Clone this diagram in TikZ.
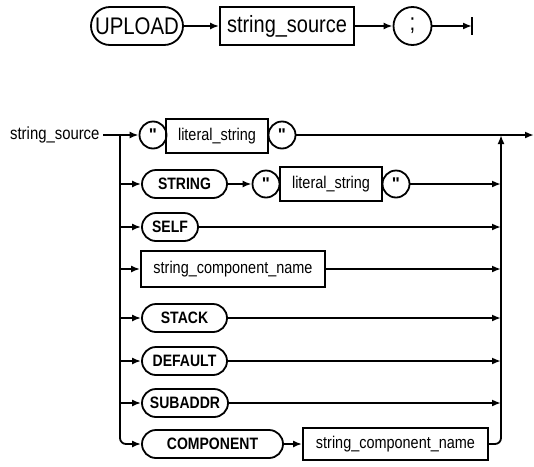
\documentclass[tikz,border=0pt]{standalone}
\usepackage{fontspec}
\setmainfont[FakeStretch=0.85]{Liberation Sans}
\newfontfamily\quotefont[Ligatures=TeXOff]{Liberation Sans}
\usetikzlibrary{arrows.meta}
\tikzset{
  kw/.style={draw,line width=1.8pt,rounded corners=14pt,minimum height=28pt,inner sep=0pt,font=\fontsize{16.5}{16.5}\selectfont\bfseries},
  refbox/.style={draw,line width=1.8pt,minimum height=34pt,inner sep=0pt,font=\fontsize{17}{17}\selectfont},
  quo/.style={draw,circle,line width=1.8pt,minimum size=27pt,inner sep=0pt,font=\fontsize{17}{17}\quotefont\bfseries},
  flow/.style={line width=1.8pt,-{Latex[length=9pt,width=7pt]}},
  wire/.style={line width=1.8pt}
}
\newcommand{\qmark}{\symbol{34}}
\begin{document}
\begin{tikzpicture}[x=1pt,y=-1pt]
\path[use as bounding box] (0,0) rectangle (534,466);
% upload statement
\node[kw,minimum width=92pt,minimum height=38pt,rounded corners=19pt,font=\fontsize{24}{24}\selectfont] (upload) at (137,26) {UPLOAD};
\node[refbox,minimum width=134pt,minimum height=38pt,font=\fontsize{23.5}{23.5}\selectfont] (ssrc) at (287,26) {string\_source};
\node[quo,minimum size=38pt,font=\fontsize{24}{24}\selectfont] (semi) at (412.5,26) {;};
\coordinate (stop) at (472,26);
\draw[flow] (upload) -- (ssrc);
\draw[flow] (ssrc) -- (semi);
\draw[flow] (semi) -- (stop);
\draw[wire] ([yshift=9pt]stop) -- ([yshift=-9pt]stop);
% string_source
\node[anchor=east,font=\fontsize{17.5}{17.5}\selectfont] (lbl) at (103,135) {string\_source};
\coordinate (split) at (120,135);
\coordinate (join) at (501,135);
\coordinate (out) at (534,135);
\node[quo] (q1) at (153,135) {\qmark};
\node[refbox,minimum width=102pt] (lit1) at (217,136) {literal\_string};
\node[quo] (q2) at (282,135) {\qmark};
\node[kw,minimum width=85pt] (string) at (184.5,184) {STRING};
\node[quo] (q3) at (266,184) {\qmark};
\node[refbox,minimum width=102pt] (lit2) at (331,184) {literal\_string};
\node[quo] (q4) at (396,184) {\qmark};
\node[kw,minimum width=56pt] (self) at (170,227) {SELF};
\node[refbox,minimum width=184pt,minimum height=36pt] (scn1) at (233,269) {string\_component\_name};
\node[kw,minimum width=85pt] (stack) at (184.5,318) {STACK};
\node[kw,minimum width=85pt] (default) at (184.5,361) {DEFAULT};
\node[kw,minimum width=86pt] (subaddr) at (185,403) {SUBADDR};
\node[kw,minimum width=141pt] (comp) at (212.5,444) {COMPONENT};
\node[refbox,minimum width=185pt,minimum height=32pt] (scn2) at (395.5,444) {string\_component\_name};
% left rail
\draw[wire] (lbl) -- (split);
\draw[flow] (split) -- (q1);
\draw[flow,rounded corners=6pt] (split) |- (comp);
\foreach \n in {string,self,scn1,stack,default,subaddr}
  \draw[flow] (split |- \n) -- (\n);
\draw[flow] (string) -- (q3);
\draw[flow] (comp) -- (scn2);
% right rail
\draw[flow] (q2) -- (out);
\foreach \n in {q4,self,scn1,stack,default,subaddr}
  \draw[flow] (\n) -- (join |- \n);
\draw[flow,rounded corners=6pt] (scn2.east) -| (join);
\end{tikzpicture}
\end{document}
